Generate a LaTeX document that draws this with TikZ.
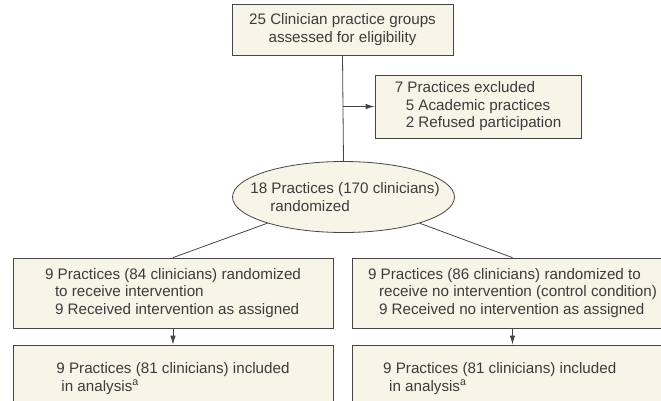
\documentclass[tikz,border=0pt]{standalone}
\usepackage{fontspec}
\setmainfont{Liberation Sans}
\usetikzlibrary{shapes.geometric,positioning,arrows.meta}
\definecolor{boxfill}{RGB}{247,244,232}
\definecolor{boxline}{RGB}{70,70,70}
\definecolor{inktext}{RGB}{60,60,60}
\begin{document}
\begin{tikzpicture}[>={Latex[length=9pt,width=5.5pt]},x=1pt,y=-1pt,
        every node/.style={font=\fontsize{15.2pt}{17.5pt}\selectfont,text=inktext},
        box/.style={draw=boxline,fill=boxfill,line width=0.8pt,align=left,inner sep=0pt},
        link/.style={draw=boxline,line width=0.8pt}]
        \useasboundingbox (0,0) rectangle (661,400);
        % screening and exclusion
        \node[box,align=center,minimum width=221pt,minimum height=51pt] (screen) at (342.5,29.5)
            {25 Clinician practice groups\\assessed for eligibility};
        \node[box,minimum width=206pt,minimum height=63pt] (excl) at (478,106.5)
            {7 Practices excluded\\\hspace*{11pt}5 Academic practices\\\hspace*{11pt}2 Refused participation};
        \node[box,ellipse,minimum width=222pt,minimum height=71pt] (rand) at (343.5,197) {};
        \node[align=left] (randtxt) at ([xshift=1.5pt]rand.center)
            {18 Practices (170 clinicians)\\\hspace*{20pt}randomized};
        % the two arms
        \node[box,minimum width=320pt,minimum height=70pt] (arm1) at (173,293)
            {9 Practices (84 clinicians) randomized\\\hspace*{10pt}to receive intervention\\\hspace*{10pt}9 Received intervention as assigned};
        \node[box,minimum width=321pt,minimum height=70pt] (arm2) at (512.5,293)
            {9 Practices (86 clinicians) randomized to\\\hspace*{11pt}receive no intervention (control condition)\\\hspace*{11pt}9 Received no intervention as assigned};
        \node[box,minimum width=320pt,minimum height=67pt] (ana1) at (173,378.5)
            {9 Practices (81 clinicians) included\\\hspace*{5pt}in analysis\textsuperscript{a}};
        \node[box,minimum width=321pt,minimum height=67pt] (ana2) at (512.5,378.5) {};
        \node[align=left,anchor=west,right=28pt of ana2.west] (ana2txt)
            {9 Practices (81 clinicians) included\\\hspace*{6pt}in analysis\textsuperscript{a}};
        % connectors
        \draw[link] (screen.south) -- (rand.north);
        \draw[link,->] (screen.south |- excl.west) -- (excl.west);
        \draw[link] (rand.199) -- (arm1.north);
        \draw[link] (rand.341) -- (arm2.north);
        \draw[link,->] (arm1.south) -- (ana1.north);
        \draw[link,->] (arm2.south) -- (ana2.north);
    \end{tikzpicture}
\end{document}
